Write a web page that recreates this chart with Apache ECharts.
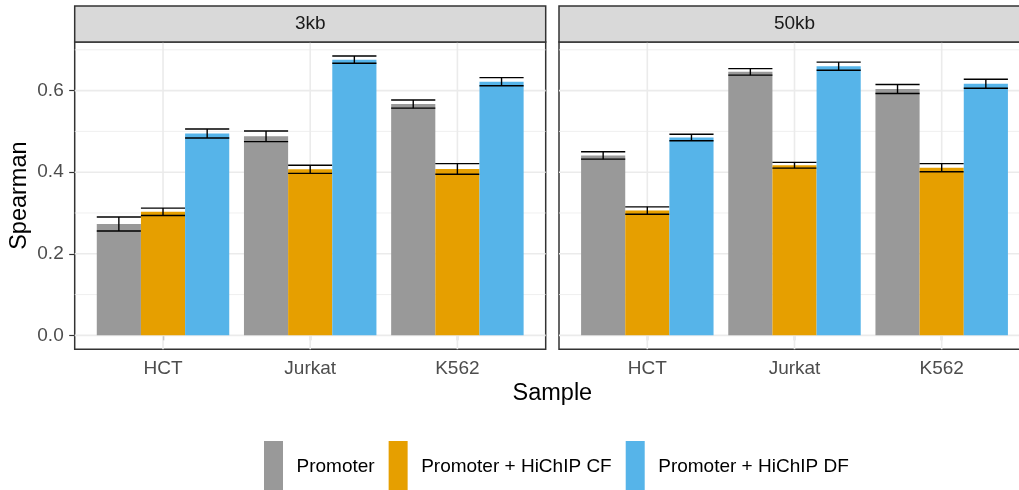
<!DOCTYPE html>
<html>
<head>
<meta charset="utf-8">
<title>Spearman by sample</title>
<script src="https://cdn.jsdelivr.net/npm/echarts@6/dist/echarts.min.js"></script>
<style>
  html, body { margin: 0; padding: 0; background: #ffffff; }
  #chart { width: 1019px; height: 490px; }
</style>
</head>
<body>
<div id="chart"></div>
<script>
// ---- data -------------------------------------------------------------
const samples = ['HCT', 'Jurkat', 'K562'];
const windows = ['3kb', '50kb'];
const featureSets = ['Promoter', 'Promoter + HiChIP CF', 'Promoter + HiChIP DF'];

// mean Spearman correlation per sample (HCT, Jurkat, K562)
const promoter3kb = [0.273, 0.488, 0.567];
const hichipCF3kb = [0.303, 0.407, 0.408];
const hichipDF3kb = [0.495, 0.676, 0.622];
const promoter50kb = [0.441, 0.646, 0.604];
const hichipCF50kb = [0.306, 0.417, 0.411];
const hichipDF50kb = [0.485, 0.660, 0.617];

// standard errors drawn as error bars
const promoter3kbSE = [0.017, 0.013, 0.010];
const hichipCF3kbSE = [0.009, 0.010, 0.013];
const hichipDF3kbSE = [0.011, 0.009, 0.010];
const promoter50kbSE = [0.009, 0.008, 0.011];
const hichipCF50kbSE = [0.009, 0.007, 0.010];
const hichipDF50kbSE = [0.008, 0.010, 0.011];

const yMajorTicks = [0, 0.2, 0.4, 0.6];
const yMinorTicks = [0.1, 0.3, 0.5, 0.7];

// ---- styling ----------------------------------------------------------
const FONT = "'Liberation Sans', Arial, Helvetica, sans-serif";
const palette = ['#999999', '#E69F00', '#56B4E9'];
const gridColor = '#EBEBEB';
const borderColor = '#333333';

// panel layout (pixels)
const panelTop = 42, panelHeight = 307.3, panelWidth = 471;
const panelLefts = [74.7, 559];
const stripTop = 6, stripHeight = 36;

const meansByWindow = [
  [promoter3kb, hichipCF3kb, hichipDF3kb],
  [promoter50kb, hichipCF50kb, hichipDF50kb]
];
const seByWindow = [
  [promoter3kbSE, hichipCF3kbSE, hichipDF3kbSE],
  [promoter50kbSE, hichipCF50kbSE, hichipDF50kbSE]
];

// continuous scale: data range [0, max(mean+se)] expanded by 5% each side
let hiVal = 0;
meansByWindow.forEach((sets, w) => sets.forEach((arr, k) => arr.forEach((m, i) => {
  hiVal = Math.max(hiVal, m + seByWindow[w][k][i]);
})));
const yMin = -0.05 * hiVal;
const yMax = 1.05 * hiVal;

// discrete x scale with 0.6 unit padding on both sides
const xMin = 0.4, xMax = samples.length + 0.6;
const dodge = 0.9, barW = dodge / featureSets.length;

function renderBar(params, api) {
  const x = api.value(0), k = api.value(1), m = api.value(2), se = api.value(3);
  const left = x - dodge / 2 + k * barW;
  const right = left + barW;
  const p0 = api.coord([left, 0]);
  const p1 = api.coord([right, m]);
  const yHi = api.coord([left, m + se])[1];
  const yLo = api.coord([left, m - se])[1];
  const cx = (p0[0] + p1[0]) / 2;
  const eb = { stroke: '#000000', lineWidth: 1.4 };
  return {
    type: 'group',
    children: [
      { type: 'rect', shape: { x: p0[0], y: p1[1], width: p1[0] - p0[0], height: p0[1] - p1[1] },
        style: { fill: palette[k] } },
      { type: 'line', shape: { x1: p0[0], y1: yHi, x2: p1[0], y2: yHi }, style: eb },
      { type: 'line', shape: { x1: p0[0], y1: yLo, x2: p1[0], y2: yLo }, style: eb },
      { type: 'line', shape: { x1: cx, y1: yHi, x2: cx, y2: yLo }, style: eb }
    ]
  };
}

function renderHLine(width) {
  return function (params, api) {
    const cs = params.coordSys;
    const y = api.coord([xMin, api.value(0)])[1];
    return { type: 'line', shape: { x1: cs.x, y1: y, x2: cs.x + cs.width, y2: y },
      style: { stroke: gridColor, lineWidth: width } };
  };
}
function renderVLine(params, api) {
  const cs = params.coordSys;
  const x = api.coord([api.value(0), 0])[0];
  return { type: 'line', shape: { x1: x, y1: cs.y, x2: x, y2: cs.y + cs.height },
    style: { stroke: gridColor, lineWidth: 1.6 } };
}

const grids = [], xAxes = [], yAxes = [], series = [], graphics = [];

windows.forEach((win, w) => {
  grids.push({
    left: panelLefts[w], top: panelTop, width: panelWidth, height: panelHeight,
    show: true, backgroundColor: '#ffffff', borderColor: borderColor, borderWidth: 1.5,
    containLabel: false, outerBoundsMode: 'none'
  });
  xAxes.push({
    type: 'value', gridIndex: w, min: xMin, max: xMax,
    axisLine: { show: false },
    splitLine: { show: false },
    axisTick: { show: true, length: 5, customValues: samples.map((s, i) => i + 1),
      lineStyle: { color: borderColor, width: 1.2 } },
    axisLabel: {
      customValues: samples.map((s, i) => i + 1),
      formatter: v => samples[Math.round(v) - 1] || '',
      color: '#4D4D4D', fontSize: 19, fontFamily: FONT, margin: 9.5
    }
  });
  yAxes.push({
    type: 'value', gridIndex: w, min: yMin, max: yMax,
    axisLine: { show: false },
    splitLine: { show: false },
    axisTick: { show: w === 0, length: 5.5, customValues: yMajorTicks,
      lineStyle: { color: borderColor, width: 1.2 } },
    axisLabel: {
      show: w === 0, customValues: yMajorTicks,
      formatter: v => v.toFixed(1),
      color: '#4D4D4D', fontSize: 19, fontFamily: FONT, margin: 11
    }
  });

  // panel grid lines (drawn beneath the bars)
  series.push({
    type: 'custom', name: 'minor-' + win, xAxisIndex: w, yAxisIndex: w, z: 1, silent: true,
    renderItem: renderHLine(0.8), data: yMinorTicks.map(v => [v]), encode: { x: [], y: 0 },
    tooltip: { show: false }
  });
  series.push({
    type: 'custom', name: 'major-' + win, xAxisIndex: w, yAxisIndex: w, z: 1, silent: true,
    renderItem: renderHLine(1.6), data: yMajorTicks.map(v => [v]), encode: { x: [], y: 0 },
    tooltip: { show: false }
  });
  series.push({
    type: 'custom', name: 'vgrid-' + win, xAxisIndex: w, yAxisIndex: w, z: 1, silent: true,
    renderItem: renderVLine, data: samples.map((s, i) => [i + 1]), encode: { x: 0, y: [] },
    tooltip: { show: false }
  });

  // bars with error bars
  featureSets.forEach((fs, k) => {
    series.push({
      type: 'custom', name: fs, xAxisIndex: w, yAxisIndex: w, z: 3,
      itemStyle: { color: palette[k] },
      renderItem: renderBar,
      encode: { x: 0, y: 2 },
      data: samples.map((s, i) => [i + 1, k, meansByWindow[w][k][i], seByWindow[w][k][i]])
    });
  });

  // facet strip
  graphics.push({
    type: 'rect', z: 10,
    shape: { x: panelLefts[w], y: stripTop, width: panelWidth, height: stripHeight },
    style: { fill: '#D9D9D9', stroke: borderColor, lineWidth: 1.5 }
  });
  graphics.push({
    type: 'text', z: 11,
    x: panelLefts[w] + panelWidth / 2, y: stripTop + stripHeight / 2,
    style: { text: win, fill: '#1A1A1A', fontSize: 19, fontFamily: FONT,
      align: 'center', verticalAlign: 'middle' }
  });
});

// axis titles
graphics.push({
  type: 'text', z: 11,
  x: (panelLefts[0] + panelLefts[1] + panelWidth) / 2, y: 394,
  style: { text: 'Sample', fill: '#000000', fontSize: 23.5, fontFamily: FONT,
    align: 'center', verticalAlign: 'middle' }
});
graphics.push({
  type: 'text', z: 11, rotation: Math.PI / 2,
  x: 20, y: panelTop + panelHeight / 2,
  style: { text: 'Spearman', fill: '#000000', fontSize: 23.5, fontFamily: FONT,
    align: 'center', verticalAlign: 'middle' }
});

const chart = echarts.init(document.getElementById('chart'), null, { renderer: 'canvas' });
chart.setOption({
  animation: false,
  backgroundColor: '#ffffff',
  textStyle: { fontFamily: FONT },
  grid: grids,
  xAxis: xAxes,
  yAxis: yAxes,
  legend: {
    data: featureSets,
    left: 264, top: 441, padding: 0,
    orient: 'horizontal',
    icon: 'rect', itemWidth: 19, itemHeight: 51, itemGap: 14,
    selectedMode: false,
    textStyle: { fontSize: 19, color: '#000000', fontFamily: FONT, padding: [0, 0, 0, 8.5] }
  },
  graphic: graphics,
  series: series
});
</script>
</body>
</html>
